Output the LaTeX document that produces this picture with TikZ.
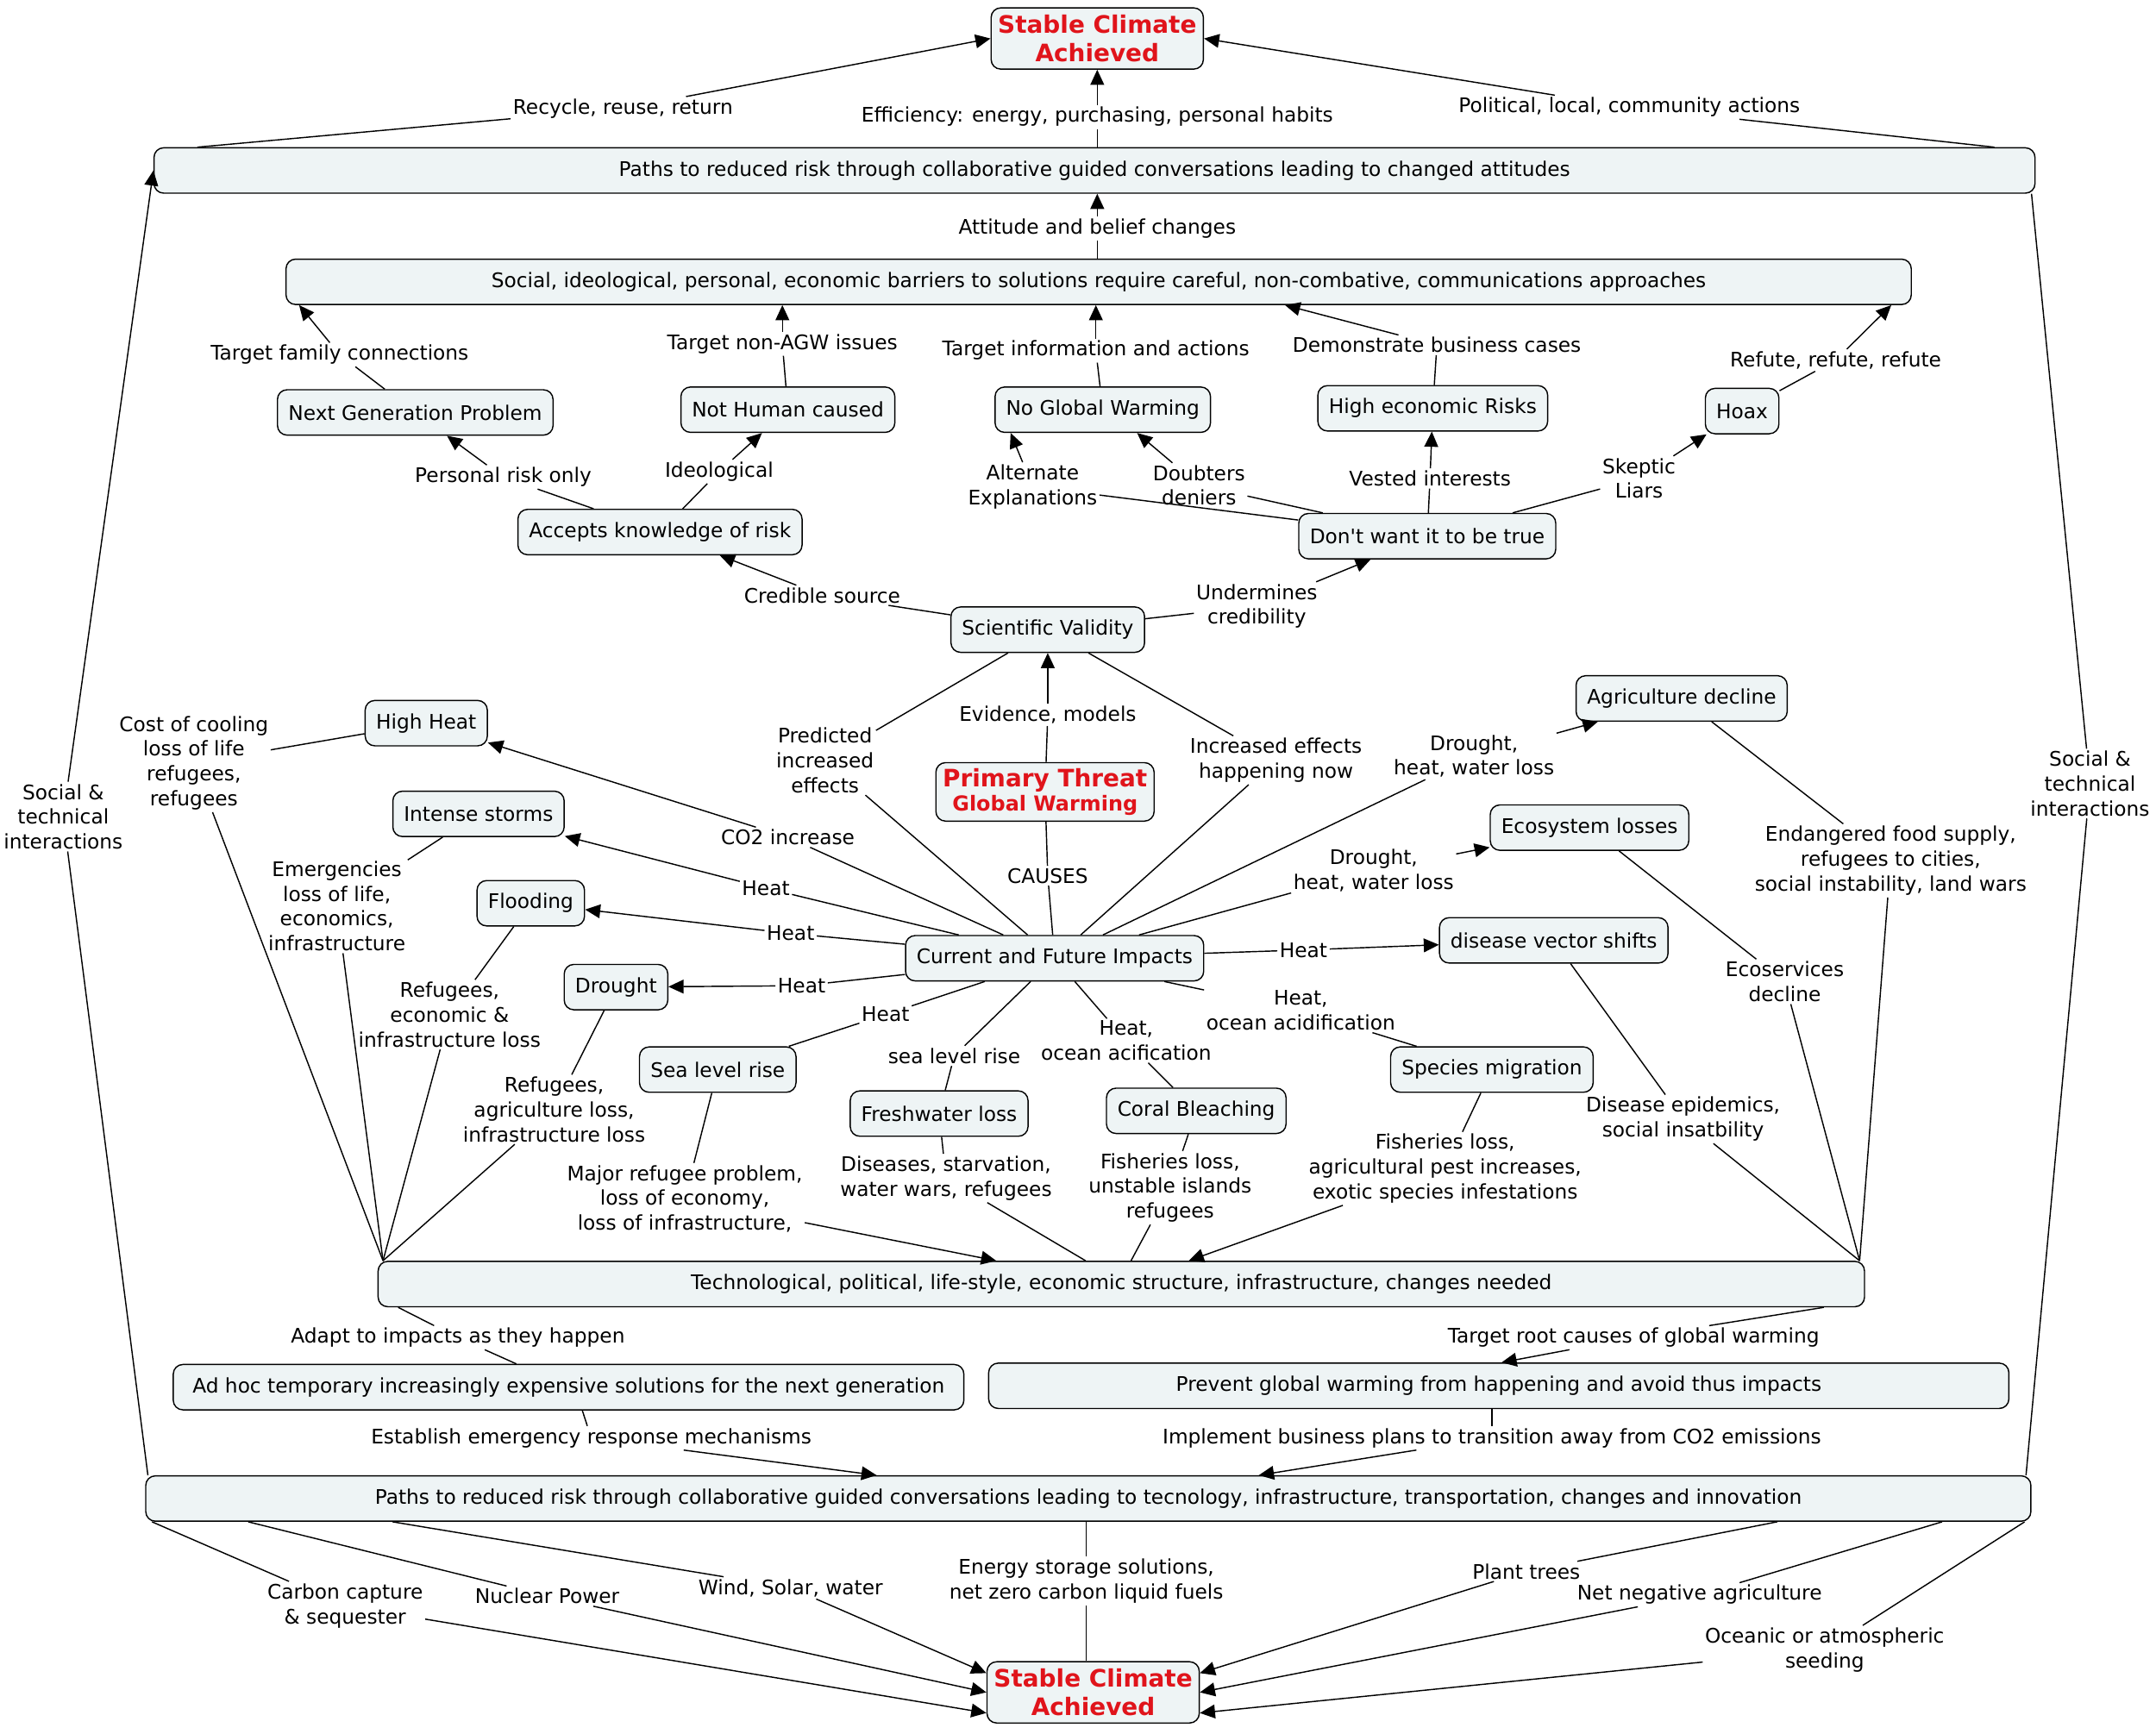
\documentclass[tikz,border=0pt]{standalone}
\usepackage{fontspec}
\setmainfont{DejaVu Sans}
\usetikzlibrary{arrows.meta}
\definecolor{boxfill}{HTML}{EEF4F5}
\definecolor{tred}{HTML}{E0141B}
\begin{document}
\begin{tikzpicture}[x=1pt,y=-1pt,
 every node/.style={font=\fontsize{14.6}{18}\selectfont},
 box/.style={draw, rounded corners=7pt, fill=boxfill, minimum height=33pt, inner xsep=8pt, line width=0.9pt},
 wide/.style={box, minimum width=#1},
 title/.style={box, align=center, text=tred, font=\fontsize{17.5}{21}\selectfont\bfseries, inner sep=5pt},
 lbl/.style={align=center, inner sep=1.5pt},
 ln/.style={line width=0.9pt},
 ar/.style={ln, -{Triangle[length=11pt,width=10pt]}},
]
\useasboundingbox (0,0) rectangle (1568,1261);
% boxes
\node[title] (sca1) at (798,28) {Stable Climate\\Achieved};
\node[wide=1368pt] (P1) at (796,124) {Paths to reduced risk through collaborative guided conversations leading to changed attitudes};
\node[wide=1182pt] (bar) at (799,205) {Social, ideological, personal, economic barriers to solutions require careful, non-combative, communications approaches};
\node[box] (ngp) at (302,300) {Next Generation Problem};
\node[box] (nhc) at (573,298) {Not Human caused};
\node[box] (ngw) at (802,298) {No Global Warming};
\node[box] (her) at (1042,297) {High economic Risks};
\node[box] (hoax) at (1267,299) {Hoax};
\node[box] (akr) at (480,387) {Accepts knowledge of risk};
\node[box] (dwt) at (1038,390) {Don\textquotesingle t want it to be true};
\node[box] (sv) at (762,458) {Scientific Validity};
\node[title, inner ysep=4pt] (pt) at (760,576) {Primary Threat\\[-3pt]{\fontsize{15}{17}\selectfont Global Warming}};
\node[box] (hh) at (310,526) {High Heat};
\node[box] (is) at (348,592) {Intense storms};
\node[box] (fl) at (386,657) {Flooding};
\node[box] (dr) at (448,718) {Drought};
\node[box] (cfi) at (767,697) {Current and Future Impacts};
\node[box] (agr) at (1223,508) {Agriculture decline};
\node[box] (eco) at (1156,602) {Ecosystem losses};
\node[box] (dvs) at (1130,684) {disease vector shifts};
\node[box] (slr) at (522,778) {Sea level rise};
\node[box] (fwl) at (683,810) {Freshwater loss};
\node[box] (cb) at (870,808) {Coral Bleaching};
\node[box] (sm) at (1085,778) {Species migration};
\node[wide=1081pt] (tech) at (815.5,934) {Technological, political, life-style, economic structure, infrastructure, changes needed};
\node[wide=575pt] (adhoc) at (413.5,1009) {Ad hoc temporary increasingly expensive solutions for the next generation};
\node[wide=742pt] (prev) at (1090,1008) {Prevent global warming from happening and avoid thus impacts};
\node[wide=1371pt] (P2) at (791.5,1090) {Paths to reduced risk through collaborative guided conversations leading to tecnology, infrastructure, transportation, changes and innovation};
\node[title] (sca2) at (795,1231) {Stable Climate\\Achieved};
% labels
\node[lbl] (rrr0) at (453,79) {Recycle, reuse, return};
\node[lbl] (eff) at (798,85) {Efficiency: energy, purchasing, personal habits};
\node[lbl] (pol) at (1185,78) {Political, local, community actions};
\node[lbl] (att) at (798,166) {Attitude and belief changes};
\node[lbl] (tfc) at (247,258) {Target family connections};
\node[lbl] (tna) at (569,250) {Target non-AGW issues};
\node[lbl] (tia) at (797,255) {Target information and actions};
\node[lbl] (dbc) at (1045,251) {Demonstrate business cases};
\node[lbl] (rrr) at (1335,262) {Refute, refute, refute};
\node[lbl] (prs) at (366,347) {Personal risk only};
\node[lbl] (ideo) at (523,343) {Ideological};
\node[lbl] (alt) at (751,354) {Alternate\\Explanations};
\node[lbl] (dd) at (872,353) {Doubters\\deniers};
\node[lbl] (vi) at (1040,348) {Vested interests};
\node[lbl] (sl) at (1192,348) {Skeptic\\Liars};
\node[lbl] (cs) at (598,433) {Credible source};
\node[lbl] (uc) at (914,441) {Undermines\\credibility};
\node[lbl] (em) at (762,520) {Evidence, models};
\node[lbl] (pie) at (600,553) {Predicted\\increased\\effects};
\node[lbl] (iehn) at (928,553) {Increased effects\\happening now};
\node[lbl] (causes) at (762,637) {CAUSES};
\node[lbl] (co2) at (573,609) {CO2 increase};
\node[lbl] (h1) at (557,646) {Heat};
\node[lbl] (h2) at (575,679) {Heat};
\node[lbl] (h3) at (583,717) {Heat};
\node[lbl] (dhw1) at (1072,550) {Drought,\\heat, water loss};
\node[lbl] (dhw2) at (999,633) {Drought,\\heat, water loss};
\node[lbl] (h4) at (948,691) {Heat};
\node[lbl] (hoa) at (946,735) {Heat,\\ocean acidification};
\node[lbl] (h5) at (644,738) {Heat};
\node[lbl] (slrl) at (694,768) {sea level rise};
\node[lbl] (hoac) at (819,757) {Heat,\\ocean acification};
\node[lbl] (cost) at (141,555) {Cost of cooling\\loss of life\\refugees,\\refugees};
\node[lbl] (emerg) at (245,659) {Emergencies\\loss of life,\\economics,\\infrastructure};
\node[lbl] (reff) at (327,738) {Refugees,\\economic \&\\infrastructure loss};
\node[lbl] (ragr) at (403,807) {Refugees,\\agriculture loss,\\infrastructure loss};
\node[lbl] (major) at (498,872) {Major refugee problem,\\loss of economy,\\loss of infrastructure,};
\node[lbl] (dis) at (688,857) {Diseases, starvation,\\water wars, refugees};
\node[lbl] (fish1) at (851,864) {Fisheries loss,\\unstable islands\\refugees};
\node[lbl] (fish2) at (1051,850) {Fisheries loss,\\agricultural pest increases,\\exotic species infestations};
\node[lbl] (endg) at (1375,626) {Endangered food supply,\\refugees to cities,\\social instability, land wars};
\node[lbl] (ecos) at (1298,714) {Ecoservices\\decline};
\node[lbl] (dep) at (1224,814) {Disease epidemics,\\social insatbility};
\node[lbl] (adapt) at (333,973) {Adapt to impacts as they happen};
\node[lbl] (trc) at (1188,973) {Target root causes of global warming};
\node[lbl] (erm) at (430,1046) {Establish emergency response mechanisms};
\node[lbl] (ibp) at (1085,1046) {Implement business plans to transition away from CO2 emissions};
\node[lbl] (ccs) at (251,1168) {Carbon capture\\\& sequester};
\node[lbl] (np) at (398,1161) {Nuclear Power};
\node[lbl] (wsw) at (575,1155) {Wind, Solar, water};
\node[lbl] (ess) at (790,1150) {Energy storage solutions,\\net zero carbon liquid fuels};
\node[lbl] (ptr) at (1110,1143) {Plant trees};
\node[lbl] (nna) at (1236,1160) {Net negative agriculture};
\node[lbl] (oas) at (1327,1200) {Oceanic or atmospheric\\seeding};
\node[lbl] (sti1) at (46,594) {Social \&\\technical\\interactions};
\node[lbl] (sti2) at (1520,570) {Social \&\\technical\\interactions};
% top connectors
\draw[ln] ([xshift=32pt]P1.north west) -- (rrr0); \draw[ar] (rrr0) -- (sca1.west);
\draw[ln] (P1.north -| eff) -- (eff); \draw[ar] (eff) -- (sca1);
\draw[ln] ([xshift=-30pt]P1.north east) -- (pol); \draw[ar] (pol) -- (sca1.east);
\draw[ln] (bar.north -| att) -- (att); \draw[ar] (att) -- (att |- P1.south);
\draw[ln] (ngp) -- (tfc); \draw[ar] (tfc) -- ([xshift=10pt]bar.south west);
\draw[ln] (nhc) -- (tna); \draw[ar] (tna) -- (tna |- bar.south);
\draw[ln] (ngw) -- (tia); \draw[ar] (tia) -- (tia |- bar.south);
\draw[ln] (her) -- (dbc); \draw[ar] (dbc) -- ([xshift=727pt]bar.south west);
\draw[ln] (hoax) -- (rrr); \draw[ar] (rrr) -- ([xshift=-15pt]bar.south east);
\draw[ln] (akr) -- (prs); \draw[ar] (prs) -- (ngp);
\draw[ln] (akr) -- (ideo); \draw[ar] (ideo) -- (nhc);
\draw[ln] (dwt) -- (alt); \draw[ar] (alt) -- ([xshift=-67pt]ngw.south);
\draw[ln] (dwt) -- (dd); \draw[ar] (dd) -- ([xshift=25pt]ngw.south);
\draw[ln] (dwt) -- (vi); \draw[ar] (vi) -- (her);
\draw[ln] (dwt) -- (sl); \draw[ar] (sl) -- (hoax);
\draw[ln] (sv) -- (cs); \draw[ar] (cs) -- (akr);
\draw[ln] (sv) -- (uc); \draw[ar] (uc) -- (dwt);
\draw[ln] (pt) -- (em); \draw[ar] (em) -- (sv);
\draw[ln] (cfi) -- (pie); \draw[ln] (pie) -- (sv);
\draw[ln] (cfi) -- (iehn); \draw[ln] (iehn) -- (sv);
\draw[ln] (pt) -- (causes); \draw[ln] (causes) -- (cfi);
% impacts
\draw[ln] (cfi) -- (co2); \draw[ar] (co2) -- (hh);
\draw[ln] (cfi) -- (h1); \draw[ar] (h1) -- (is);
\draw[ln] (cfi) -- (h2); \draw[ar] (h2) -- (fl);
\draw[ln] (cfi) -- (h3); \draw[ar] (h3) -- (dr);
\draw[ln] (cfi) -- (dhw1); \draw[ar] (dhw1) -- (agr);
\draw[ln] (cfi) -- (dhw2); \draw[ar] (dhw2) -- (eco);
\draw[ln] (cfi) -- (h4); \draw[ar] (h4) -- (dvs);
\draw[ln] (cfi) -- (hoa); \draw[ln] (hoa) -- (sm);
\draw[ln] (cfi) -- (h5); \draw[ln] (h5) -- (slr);
\draw[ln] (cfi) -- (slrl); \draw[ln] (slrl) -- (fwl);
\draw[ln] (cfi) -- (hoac); \draw[ln] (hoac) -- (cb);
% consequences
\coordinate (tl) at ([xshift=4pt]tech.north west);
\coordinate (tr) at ([xshift=-4pt]tech.north east);
\draw[ln] (hh) -- (cost); \draw[ln] (cost) -- (tl);
\draw[ln] (is) -- (emerg); \draw[ln] (emerg) -- (tl);
\draw[ln] (fl) -- (reff); \draw[ln] (reff) -- (tl);
\draw[ln] (dr) -- (ragr); \draw[ln] (ragr) -- (tl);
\draw[ln] (slr) -- (major); \draw[ar] (major) -- ([xshift=450pt]tech.north west);
\draw[ln] (fwl) -- (dis); \draw[ln] (dis) -- ([xshift=515pt]tech.north west);
\draw[ln] (cb) -- (fish1); \draw[ln] (fish1) -- ([xshift=548pt]tech.north west);
\draw[ln] (sm) -- (fish2); \draw[ar] (fish2) -- ([xshift=590pt]tech.north west);
\draw[ln] (agr) -- (endg); \draw[ln] (endg) -- (tr);
\draw[ln] (eco) -- (ecos); \draw[ln] (ecos) -- (tr);
\draw[ln] (dvs) -- (dep); \draw[ln] (dep) -- (tr);
% lower
\draw[ln] ([xshift=15pt]tech.south west) -- (adapt); \draw[ln] (adapt) -- ([xshift=-38pt]adhoc.north);
\draw[ln] ([xshift=-30pt]tech.south east) -- (trc); \draw[ar] (trc) -- ([xshift=2pt]prev.north);
\draw[ln] ([xshift=10pt]adhoc.south) -- (erm); \draw[ar] (erm) -- ([xshift=-154pt]P2.north);
\draw[ln] (prev.south -| ibp) -- (ibp); \draw[ar] (ibp) -- ([xshift=124pt]P2.north);
\coordinate (blu) at ([yshift=14pt]sca2.west);
\coordinate (bll) at ([yshift=-15pt]sca2.west);
\coordinate (bru) at ([yshift=14pt]sca2.east);
\coordinate (brl) at ([yshift=-15pt]sca2.east);
\draw[ln] ([xshift=5pt]P2.south west) -- (ccs); \draw[ar] (ccs) -- (bll);
\draw[ln] ([xshift=75pt]P2.south west) -- (np); \draw[ar] (np) -- (sca2.west);
\draw[ln] ([xshift=180pt]P2.south west) -- (wsw); \draw[ar] (wsw) -- (blu);
\draw[ln] (P2.south -| ess) -- (ess); \draw[ln] (ess) -- (ess |- sca2.north);
\draw[ln] ([xshift=-185pt]P2.south east) -- (ptr); \draw[ar] (ptr) -- (bru);
\draw[ln] ([xshift=-65pt]P2.south east) -- (nna); \draw[ar] (nna) -- (sca2.east);
\draw[ln] ([xshift=-5pt]P2.south east) -- (oas); \draw[ar] (oas) -- (brl);
\draw[ln] ([xshift=2pt]P2.north west) -- (sti1); \draw[ar] (sti1) -- (P1.west);
\draw[ln] ([xshift=-3pt]P1.south east) -- (sti2); \draw[ln] (sti2) -- ([xshift=-4pt]P2.north east);
\end{tikzpicture}
\end{document}
